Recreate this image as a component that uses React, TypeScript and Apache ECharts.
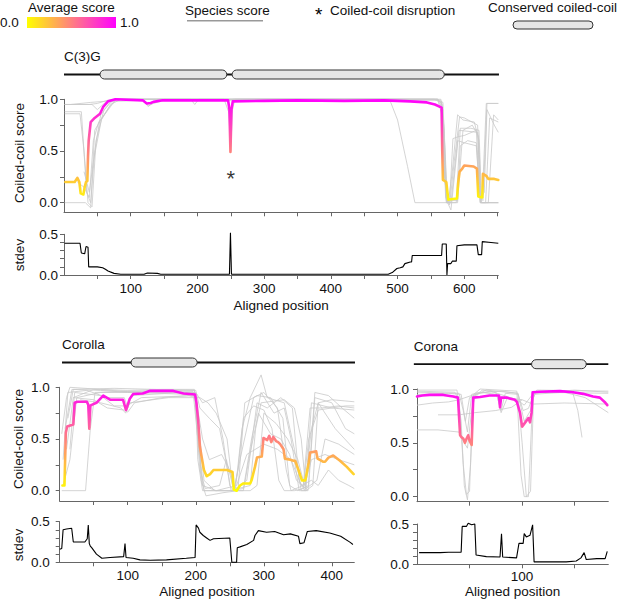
import React, { useEffect, useRef } from "react";
import * as echarts from "echarts";

// ---------- DATA ----------
// C(3)G
const c3gMean: [number, number][] = [
  [2, 0.2], [16, 0.2], [20, 0.24], [23, 0.2], [25, 0.09], [29, 0.08], [31, 0.15], [33, 0.2], [35, 0.21],
  [36, 0.45], [37, 0.6], [40, 0.78], [46, 0.82], [54, 0.86], [59, 0.93], [66, 0.98], [77, 1.0], [118, 0.99],
  [124, 0.96], [130, 0.965], [134, 0.975], [148, 0.99], [246, 0.99], [248, 0.9], [249.5, 0.49], [251, 0.9],
  [253, 0.98], [300, 0.985], [350, 0.99], [420, 0.985], [480, 0.99], [500, 0.985], [519, 0.98], [544, 0.97],
  [556, 0.95], [566, 0.92], [567, 0.5], [568, 0.22], [573, 0.2], [576, 0.03], [589, 0.04], [591, 0.2],
  [593, 0.3], [597, 0.33], [600, 0.36], [614, 0.35], [619, 0.33], [621, 0.06], [627, 0.05], [628, 0.28],
  [633, 0.26], [636, 0.23], [645, 0.23], [651, 0.22],
];
const c3gSpecies: [number, number][][] = [
  [[1, 0.95], [38, 0.95], [50, 0.96], [65, 0.99], [80, 1.0], [240, 1.0], [250, 0.82], [256, 1.0], [555, 1.0], [565, 0.97], [570, 0.3], [574, 0], [578, 0], [583, 0.62], [592, 0.64], [600, 0.65], [618, 0.7], [623, 0.1], [627, 0.05], [633, 0.96], [651, 0.96]],
  [[1, 0.88], [26, 0.88], [34, 0.1], [40, 0], [46, 0.5], [55, 0.85], [70, 0.98], [120, 0.99], [126, 0.93], [134, 0.97], [150, 1.0], [246, 1.0], [250, 0.5], [253, 1.0], [560, 1.0], [567, 0.95], [572, 0.05], [578, -0.02], [585, 0.4], [593, 0.83], [600, 0.82], [620, 0.75], [624, 0.05], [628, 0.02], [634, 0.96], [651, 0.96]],
  [[1, 0.86], [24, 0.86], [30, 0.5], [36, 0.0], [42, -0.04], [48, 0.6], [60, 0.9], [75, 1.0], [560, 1.0], [568, 0.9], [573, 0], [588, 0], [594, 0.72], [610, 0.72], [622, 0.7], [626, 0], [632, 0], [638, 0.82], [651, 0.78]],
  [[1, 0], [32, 0], [40, -0.05], [46, 0.7], [55, 0.8], [68, 0.93], [78, 1.0], [190, 1.0], [196, 0.95], [202, 1.0], [560, 1.0], [569, 0.8], [575, 0.0], [580, -0.07], [586, 0.3], [592, 0.7], [620, 0.68], [625, 0.0], [651, 0.0]],
  [[20, 0.2], [30, 0.15], [38, 0.05], [44, 0.6], [52, 0.78], [64, 0.88], [78, 1.0], [488, 1.0], [500, 0.8], [515, 0.35], [526, 0], [590, 0], [594, 0.55], [605, 0.6], [618, 0.58], [624, 0], [651, 0]],
  [[1, 0.95], [10, 0.95], [40, 0.97], [60, 0.98], [80, 1.0], [560, 1.0], [566, 0.98], [571, 0.2], [576, 0], [582, 0.3], [590, 0.85], [598, 0.8], [615, 0.78], [622, 0.6], [625, 0.05], [630, 0.1], [634, 0.9], [645, 0.75], [651, 0.68]],
  [[1, 0.95], [42, 0.95], [50, 0.9], [62, 0.97], [80, 1.0], [565, 1.0], [570, 0.7], [573, 0.02], [590, 0.02], [598, 0.7], [612, 0.75], [621, 0.65], [624, 0], [651, 0]],
  [[30, 0.3], [38, 0.1], [44, 0.4], [56, 0.8], [70, 0.95], [85, 1.0], [120, 0.99], [127, 0.94], [134, 0.96], [150, 0.99], [560, 0.99], [568, 0.97], [574, 0.0], [580, 0.0], [590, 0.6], [600, 0.58], [618, 0.55], [624, 0], [636, 0], [644, 0.85], [651, 0.8]],
];
const c3gStdev: [number, number][] = [
  [1, 0.39], [24, 0.39], [26, 0.27], [31, 0.26], [33, 0.35], [36, 0.34], [37, 0.1], [50, 0.1], [58, 0.09],
  [62, 0.07], [66, 0.05], [75, 0.02], [85, 0.01], [120, 0.01], [125, 0.025], [140, 0.02], [145, 0.01],
  [200, 0.01], [248, 0.01], [249.5, 0.52], [251, 0.01], [300, 0.01], [400, 0.01], [486, 0.01], [492, 0.03],
  [499, 0.08], [504, 0.09], [508, 0.1], [511, 0.14], [519, 0.16], [521, 0.16], [522, 0.24], [566, 0.24],
  [567, 0.38], [573, 0.38], [574, 0.0], [575, 0.14], [580, 0.14], [582, 0.17], [588, 0.17], [589, 0.36],
  [600, 0.37], [619, 0.37], [621, 0.25], [626, 0.25], [627, 0.41], [640, 0.4], [651, 0.39],
];
const c3gDisruptions: [number, number][] = [[250, 0.27]];
const c3gDomains: [number, number][] = [[54, 244], [252, 570]];
const c3gTrack: [number, number] = [0, 652];

// Corolla
const corollaMean: [number, number][] = [
  [4, 0.05], [7, 0.05], [9, 0.56], [11, 0.62], [20, 0.64], [22, 0.85], [26, 0.86], [40, 0.86], [42, 0.83],
  [43.5, 0.6], [45, 0.82], [47, 0.83], [54, 0.85], [64, 0.92], [74, 0.88], [93, 0.88], [97.5, 0.78], [103, 0.89],
  [108, 0.935], [122, 0.94], [133, 0.967], [167, 0.965], [182, 0.94], [199, 0.93], [201, 0.85], [203.5, 0.68],
  [206, 0.43], [208.5, 0.33], [212, 0.2], [216, 0.14], [221, 0.16], [226, 0.2], [246, 0.2], [250, 0.19],
  [254, 0.18], [256, 0.01], [260, 0], [265, 0.05], [270, 0.07], [280, 0.07], [282, 0.1], [287, 0.23], [290, 0.32],
  [297, 0.33], [299.5, 0.51], [305, 0.49], [308, 0.53], [311, 0.47], [314, 0.52], [318, 0.48], [321, 0.47],
  [324, 0.45], [329, 0.4], [331, 0.31], [339, 0.3], [343.5, 0.29], [346, 0.29], [351, 0.2], [356, 0.1], [361, 0.1],
  [366, 0.27], [368, 0.37], [377, 0.38], [379, 0.31], [387, 0.28], [390, 0.28], [395, 0.32], [402, 0.34],
  [412, 0.29], [422, 0.23], [432, 0.16],
];
const corollaSpecies: [number, number][][] = [
  [[3, 0.55], [10, 0.9], [15, 1.0], [60, 0.98], [100, 0.97], [150, 0.98], [198, 0.98], [205, 0.4], [212, 0], [250, 0], [258, 0], [268, 0.6], [280, 0.9], [296, 1.12], [305, 0.9], [330, 0.85], [345, 0.4], [355, 0], [362, 0], [370, 0.85], [400, 0.8], [433, 0.78]],
  [[3, 0], [38, 0], [45, 0.6], [52, 0.95], [100, 0.96], [150, 0.97], [198, 0.97], [204, 0.7], [208, 0.1], [215, -0.05], [240, -0.02], [262, 0], [272, 0.85], [290, 0.92], [310, 0.9], [328, 0.7], [338, 0.05], [350, 0], [366, 0.05], [375, 0.9], [400, 0.85], [420, 0.6], [433, 0.55]],
  [[5, 0.3], [12, 0.95], [40, 0.97], [70, 0.9], [95, 0.9], [100, 0.8], [105, 0.92], [180, 0.95], [200, 0.95], [210, 0.85], [228, 0.9], [240, 0.5], [250, 0.05], [256, 0], [265, 0.3], [285, 0.9], [300, 0.95], [320, 0.8], [333, 0.2], [340, 0], [358, 0.05], [368, 0.8], [385, 0.8], [410, 0.82], [433, 0.8]],
  [[8, 0.6], [18, 0.98], [60, 0.97], [100, 0.95], [198, 0.95], [206, 0.2], [214, 0.02], [235, 0.05], [245, 0.3], [256, 0], [275, 0.1], [290, 0.85], [305, 0.8], [325, 0.9], [342, 0.8], [352, 0.1], [360, 0], [370, 0.6], [380, 0.85], [405, 0.6], [433, 0.4]],
  [[10, 0.4], [20, 0.9], [50, 0.88], [70, 0.8], [95, 0.78], [100, 0.76], [110, 0.85], [150, 0.9], [190, 0.92], [200, 0.9], [210, 0.5], [220, 0.3], [238, 0.35], [250, 0.2], [258, 0], [280, 0], [290, 0.05], [300, 0.75], [318, 0.65], [335, 0.5], [350, 0.3], [360, 0.05], [370, 0.3], [390, 0.35], [410, 0.3], [433, 0.25]],
  [[5, 0.05], [15, 0.3], [25, 0.9], [60, 0.95], [100, 0.95], [200, 0.93], [205, 0.6], [212, 0.1], [228, 0], [248, 0], [270, 0.02], [282, 0.5], [296, 0.95], [315, 0.75], [330, 0.8], [340, 0.5], [352, 0], [365, 0], [375, 0.95], [395, 0.92], [415, 0.8], [433, 0.7]],
  [[12, 0.7], [20, 0.98], [80, 0.99], [140, 0.98], [200, 0.97], [206, 0.8], [220, 0.7], [235, 0.6], [244, 0.3], [252, 0], [270, 0], [278, 0.3], [292, 0.75], [310, 0.55], [325, 0.5], [338, 0.35], [348, 0.1], [362, 0.02], [378, 0.1], [390, 0.5], [410, 0.45], [433, 0.35]],
  [[15, 0.4], [22, 0.95], [60, 0.92], [80, 0.82], [98, 0.82], [120, 0.9], [200, 0.92], [203, 0.3], [210, 0], [256, 0], [262, 0.2], [270, 0.7], [285, 0.82], [300, 0.78], [312, 0.6], [322, 0.1], [330, 0], [345, 0], [358, 0.02], [366, 0.5], [380, 0.78], [420, 0.82], [433, 0.82]],
  [[20, 0.9], [50, 0.98], [100, 0.96], [196, 0.96], [203, 0.5], [210, 0.05], [230, 0], [260, 0.05], [275, 0.35], [300, 0.45], [320, 0.4], [340, 0.3], [355, 0.05], [370, 0.1], [380, 0.05], [395, 0.2], [410, 0.1], [425, 0.05], [433, 0.02]],
  [[30, 0.88], [60, 0.85], [90, 0.8], [97, 0.75], [103, 0.85], [160, 0.9], [199, 0.9], [206, 0.9], [218, 0.85], [230, 0.75], [246, 0.5], [254, 0.05], [262, 0.02], [280, 0.05], [288, 0.6], [296, 0.85], [330, 0.88], [345, 0.8], [355, 0.5], [362, 0], [372, 0.05], [380, 0.85], [400, 0.88], [433, 0.86]],
];
const corollaStdev: [number, number][] = [
  [0, 0.16], [3, 0.17], [5, 0.4], [10, 0.41], [17.6, 0.42], [20, 0.25], [37, 0.25], [40.5, 0.29], [42, 0.46],
  [43.5, 0.23], [45, 0.2], [47, 0.18], [54, 0.1], [62, 0.05], [74, 0.06], [94, 0.07], [96, 0.23], [97.5, 0.06],
  [108, 0.05], [118, 0.03], [133, 0.025], [157, 0.03], [186, 0.05], [199, 0.06], [200.5, 0.46], [204, 0.42],
  [206, 0.37], [211, 0.33], [216, 0.3], [221, 0.27], [226, 0.29], [250, 0.3], [253, 0.0], [260, 0.0], [261, 0.18],
  [265, 0.19], [275, 0.22], [285, 0.27], [287, 0.33], [292, 0.39], [304, 0.37], [316, 0.38], [329, 0.34],
  [339, 0.35], [351, 0.32], [353, 0.23], [359, 0.24], [364, 0.38], [377, 0.39], [397, 0.36], [413, 0.32],
  [427, 0.245], [431, 0.22],
];
const corollaDomains: [number, number][] = [[105, 202]];
const corollaTrack: [number, number] = [3.4, 434];

// Corona
const coronaMean: [number, number][] = [
  [0, 0.93], [5, 0.94], [12, 0.945], [25, 0.945], [34.5, 0.93], [39, 0.92], [41, 0.57], [42.5, 0.55], [44, 0.54],
  [45.6, 0.5], [47.2, 0.54], [48.7, 0.57], [50, 0.52], [52, 0.48], [53.5, 0.92], [60, 0.925], [69, 0.94],
  [78, 0.94], [79, 0.83], [80, 0.92], [85, 0.92], [93, 0.9], [95, 0.88], [98, 0.78], [100, 0.65], [103, 0.69],
  [106, 0.73], [107.5, 0.69], [109, 0.78], [110, 0.97], [117, 0.975], [136, 0.98], [148.5, 0.97], [158, 0.955],
  [167.5, 0.93], [174, 0.92], [178.5, 0.88], [181, 0.85],
];
const coronaSpecies: [number, number][][] = [
  [[0, 0.99], [38, 0.99], [42, 0.7], [45, 0.1], [48, -0.03], [51, 0.3], [54, 0.95], [60, 1.0], [95, 0.98], [99, 0.2], [102, 0.0], [106, 0.0], [110, 0.9], [114, 0.99], [182, 0.98]],
  [[0, 0.98], [36, 0.97], [40, 0.9], [44, 0.3], [47, 0.02], [50, 0.05], [53, 0.9], [62, 0.99], [75, 0.97], [80, 0.8], [84, 0.96], [96, 0.95], [100, 0.5], [104, 0.0], [108, 0.05], [111, 0.96], [150, 0.99], [182, 0.97]],
  [[0, 0.85], [15, 0.87], [30, 0.88], [40, 0.9], [55, 0.95], [70, 0.98], [95, 0.9], [102, 0.85], [110, 0.95], [140, 0.97], [160, 0.92], [182, 0.78]],
  [[20, 0.76], [40, 0.76], [55, 0.78], [75, 0.8], [90, 0.83], [100, 0.9]],
  [[0, 0.62], [20, 0.62], [40, 0.6], [45, 0.5], [48, 0.45], [52, 0.8], [56, 0.96], [80, 0.98], [96, 0.96], [102, 0.7], [108, 0.8], [112, 0.97], [148, 0.97], [153, 0.8], [157, 0.55]],
  [[0, 0.97], [40, 0.96], [44, 0.8], [48, 0.6], [52, 0.95], [60, 0.97], [76, 0.95], [80, 0.78], [86, 0.92], [100, 0.9], [110, 0.86], [140, 0.87], [182, 0.86]],
  [[0, 0.95], [30, 0.96], [42, 0.95], [46, 0.7], [50, 0.92], [66, 0.99], [96, 0.96], [101, 0.8], [106, 0.82], [112, 0.97], [182, 0.96]],
];
const coronaStdev: [number, number][] = [
  [2, 0.145], [22, 0.145], [30, 0.15], [42, 0.15], [43, 0.47], [47, 0.47], [48.7, 0.51], [52, 0.49], [55, 0.5],
  [56.2, 0.115], [66, 0.095], [79, 0.09], [80.4, 0.38], [81.5, 0.09], [94.7, 0.08], [97, 0.26], [101, 0.26],
  [102, 0.38], [104, 0.34], [107.5, 0.36], [110, 0.49], [111.4, 0.03], [142, 0.03], [151.5, 0.04], [156, 0.08],
  [159, 0.145], [161, 0.06], [171, 0.07], [179, 0.07], [181, 0.16],
];
const coronaDomains: [number, number][] = [[109, 161]];
const coronaTrack: [number, number] = [-3, 182];

const scoreTicks = [0, 0.25, 0.5, 0.75, 1];
const scoreLabels = [0, 0.5, 1];
const stdevTicks = [0, 0.1, 0.2, 0.3, 0.4, 0.5];
const stdevLabels = [0, 0.5];

// ---------- STYLE / LAYOUT ----------
const FONT = '"Liberation Sans", Arial, Helvetica, sans-serif';
const FS = 13.5;
const TXT = "#111";
const AX = "#666";

type Panel = {
  name: string;
  xMax: number;
  left: number;
  width: number;
  scoreTop: number;
  scoreH: number;
  scoreMin: number;
  sdTop: number;
  sdH: number;
  yMargin: number;
  xMargin: number;
  nameGap: number;
  mean: [number, number][];
  species: [number, number][][];
  stdev: [number, number][];
  domains: [number, number][];
  track: [number, number];
};

const panels: Panel[] = [
  { name: "C(3)G", xMax: 651, left: 64, width: 434.3, scoreTop: 99.3, scoreH: 113, scoreMin: -0.093, sdTop: 234.3, sdH: 40.7, yMargin: 6, xMargin: 6, nameGap: 23, mean: c3gMean, species: c3gSpecies, stdev: c3gStdev, domains: c3gDomains, track: c3gTrack },
  { name: "Corolla", xMax: 433, left: 59.7, width: 294.6, scoreTop: 387.3, scoreH: 113.7, scoreMin: -0.1, sdTop: 521.7, sdH: 40.6, yMargin: 10, xMargin: 6, nameGap: 22, mean: corollaMean, species: corollaSpecies, stdev: corollaStdev, domains: corollaDomains, track: corollaTrack },
  { name: "Corona", xMax: 182, left: 417, width: 191.3, scoreTop: 389, scoreH: 112.7, scoreMin: -0.047, sdTop: 524, sdH: 40.3, yMargin: 8, xMargin: 5, nameGap: 20, mean: coronaMean, species: coronaSpecies, stdev: coronaStdev, domains: coronaDomains, track: coronaTrack },
];

function multiples(step: number, max: number, from: number) {
  const out: number[] = [];
  for (let v = from; v <= max + 1e-9; v += step) out.push(v);
  return out;
}

function buildOption() {
  const grid: any[] = [];
  const xAxis: any[] = [];
  const yAxis: any[] = [];
  const series: any[] = [];
  const meanIdx: number[] = [];
  const baseLine = { lineStyle: { color: AX, width: 1 } };
  const tick = { show: true, inside: false, length: 4, lineStyle: { color: AX, width: 1 } };
  const label = { color: TXT, fontSize: FS, fontFamily: FONT };

  panels.forEach((p, i) => {
    const gs = i * 2;
    const gd = i * 2 + 1;
    grid.push({ left: p.left, top: p.scoreTop, width: p.width, height: p.scoreH, containLabel: false });
    grid.push({ left: p.left, top: p.sdTop, width: p.width, height: p.sdH, containLabel: false });
    const xt = multiples(50, p.xMax, 50);
    const xl = multiples(100, p.xMax, 100);
    xAxis.push({
      type: "value", gridIndex: gs, min: 0, max: p.xMax,
      axisLine: { show: true, onZero: false, ...baseLine },
      axisTick: { ...tick, customValues: xt },
      axisLabel: { show: false },
      splitLine: { show: false },
    });
    xAxis.push({
      type: "value", gridIndex: gd, min: 0, max: p.xMax,
      axisLine: { show: true, onZero: false, ...baseLine },
      axisTick: { ...tick, customValues: xt },
      axisLabel: { ...label, margin: p.xMargin, customValues: xl, formatter: (v: number) => String(v) },
      splitLine: { show: false },
      name: "Aligned position", nameLocation: "middle", nameGap: p.nameGap,
      nameTextStyle: { color: TXT, fontSize: FS, fontFamily: FONT },
    });
    yAxis.push({
      type: "value", gridIndex: gs, min: p.scoreMin, max: 1,
      axisLine: { show: true, onZero: false, ...baseLine },
      axisTick: { ...tick, customValues: scoreTicks },
      axisLabel: { ...label, margin: p.yMargin, customValues: scoreLabels, formatter: (v: number) => v.toFixed(1) },
      splitLine: { show: false },
    });
    yAxis.push({
      type: "value", gridIndex: gd, min: 0, max: 0.5,
      axisLine: { show: true, onZero: false, ...baseLine },
      axisTick: { ...tick, customValues: stdevTicks },
      axisLabel: { ...label, margin: p.yMargin, customValues: stdevLabels, formatter: (v: number) => v.toFixed(1) },
      splitLine: { show: false },
    });
    p.species.forEach((s) => {
      series.push({
        type: "line", xAxisIndex: gs, yAxisIndex: gs, data: s, showSymbol: false, symbol: "none",
        clip: false, silent: true, z: 1,
        lineStyle: { color: "#c9c9c9", width: 0.8 },
      });
    });
    meanIdx.push(series.length);
    series.push({
      type: "line", xAxisIndex: gs, yAxisIndex: gs, data: p.mean, showSymbol: false, symbol: "none",
      clip: false, silent: true, z: 3,
      lineStyle: { width: 2.6, cap: "round", join: "round" },
    });
    series.push({
      type: "line", xAxisIndex: gd, yAxisIndex: gd, data: p.stdev, showSymbol: false, symbol: "none",
      clip: false, silent: true, z: 3,
      lineStyle: { color: "#000", width: 1.1 },
    });
    if (i === 0) {
      series.push({
        type: "scatter", xAxisIndex: gs, yAxisIndex: gs, data: c3gDisruptions, symbol: "circle", symbolSize: 1,
        itemStyle: { color: "rgba(0,0,0,0)" }, silent: true, z: 4,
        label: { show: true, position: "inside", formatter: "*", fontSize: 22, fontFamily: FONT, color: "#000", offset: [0, 4] },
      });
    }
  });

  return {
    animation: false,
    backgroundColor: "#fff",
    grid, xAxis, yAxis, series,
    visualMap: [{
      type: "continuous", show: false, dimension: 1, min: 0, max: 1, seriesIndex: meanIdx,
      inRange: { color: ["#ffff00", "#ff00ff"] },
    }],
  };
}

function txt(text: string, x: number, y: number, extra: any = {}) {
  return {
    type: "text", x, y, silent: true,
    style: { text, fill: TXT, fontSize: FS, fontFamily: FONT, align: "left", verticalAlign: "middle", ...extra },
  };
}

function buildGraphic(chart: any) {
  const els: any[] = [];
  // legend
  els.push(txt("Average score", 28, 7.5));
  els.push({
    type: "rect", shape: { x: 27, y: 17, width: 89, height: 11 }, silent: true,
    style: { fill: new echarts.graphic.LinearGradient(0, 0, 1, 0, [{ offset: 0, color: "#ffff00" }, { offset: 1, color: "#ff00ff" }]) },
  });
  els.push(txt("0.0", 0, 22));
  els.push(txt("1.0", 120, 22));
  els.push(txt("Species score", 185, 10.5));
  els.push({ type: "line", shape: { x1: 187, y1: 20.7, x2: 263, y2: 20.7 }, silent: true, style: { stroke: "#999", lineWidth: 1.5 } });
  els.push(txt("*", 315, 14, { fontSize: 19, fill: "#000" }));
  els.push(txt("Coiled-coil disruption", 330, 10.5));
  els.push(txt("Conserved coiled-coil", 488, 7.5));
  els.push({ type: "rect", shape: { x: 513, y: 21, width: 80, height: 8, r: 4 }, silent: true, style: { fill: "#e6e6e6", stroke: "#333", lineWidth: 1 } });

  // y-axis names
  els.push(txt("Coiled-coil score", 19, 153, { align: "center" }));
  els[els.length - 1].rotation = Math.PI / 2;
  els.push(txt("stdev", 19, 255, { align: "center" }));
  els[els.length - 1].rotation = Math.PI / 2;
  els.push(txt("Coiled-coil score", 18.5, 439, { align: "center" }));
  els[els.length - 1].rotation = Math.PI / 2;
  els.push(txt("stdev", 18.5, 545, { align: "center" }));
  els[els.length - 1].rotation = Math.PI / 2;

  // domain tracks
  panels.forEach((p, i) => {
    const xi = i * 2;
    const px = (v: number) => chart.convertToPixel({ xAxisIndex: xi }, v) as number;
    const ty = p.scoreTop - 24.8;
    const x0 = px(p.track[0]);
    const x1 = px(p.track[1]);
    els.push(txt(p.name, x0, ty - 18));
    els.push({ type: "line", shape: { x1: x0, y1: ty, x2: x1, y2: ty }, silent: true, style: { stroke: "#111", lineWidth: 1.8 } });
    p.domains.forEach((d) => {
      const a = px(d[0]);
      const b = px(d[1]);
      els.push({ type: "rect", shape: { x: a, y: ty - 4.5, width: b - a, height: 9, r: 4.5 }, silent: true, style: { fill: "#e6e6e6", stroke: "#333", lineWidth: 1 } });
    });
  });
  return els;
}

export default function App() {
  const ref = useRef<HTMLDivElement>(null);
  useEffect(() => {
    if (!ref.current) return;
    const chart = echarts.init(ref.current, null, { renderer: "svg", width: 617, height: 600 });
    chart.setOption(buildOption() as any);
    chart.setOption({ graphic: buildGraphic(chart) } as any);
    return () => chart.dispose();
  }, []);
  return <div ref={ref} style={{ position: "absolute", left: 0, top: 0, width: 617, height: 600, background: "#fff" }} />;
}
